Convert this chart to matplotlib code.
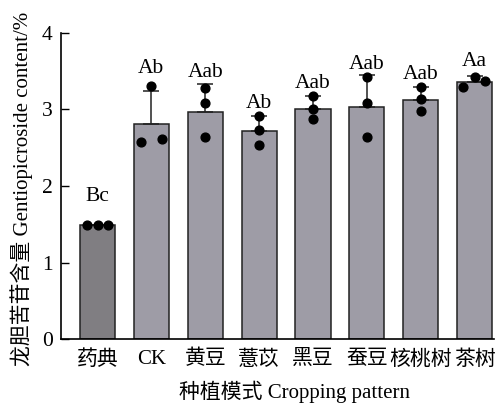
import matplotlib
matplotlib.use("Agg")
import matplotlib.pyplot as plt
import numpy as np

plt.rcParams['font.family'] = ['Liberation Serif', 'Noto Sans CJK SC']

categories = ['药典', 'CK', '黄豆', '薏苡', '黑豆', '蚕豆', '核桃树', '茶树']
means = [1.49, 2.81, 2.97, 2.72, 3.01, 3.03, 3.13, 3.36]
sds = [0.0, 0.43, 0.36, 0.20, 0.16, 0.42, 0.16, 0.08]
points = [
    [1.49, 1.49, 1.49],
    [2.58, 3.31, 2.61],
    [2.64, 3.08, 3.28],
    [2.54, 2.73, 2.92],
    [2.88, 3.00, 3.18],
    [2.64, 3.08, 3.43],
    [2.98, 3.14, 3.29],
    [3.29, 3.43, 3.37],
]
letters = ['Bc', 'Ab', 'Aab', 'Ab', 'Aab', 'Aab', 'Aab', 'Aa']

# horizontal spread of the dots inside each bar
spread = [
    [-0.2, 0.0, 0.2],
    [-0.19, 0.0, 0.2],
    [0, 0, 0],
    [0, 0, 0],
    [0, 0, 0],
    [0, 0, 0],
    [0, 0, 0],
    [-0.22, 0.0, 0.2],
]
# gap between error-bar cap and letter baseline
gaps = [0.32, 0.17, 0.1, 0.1, 0.1, 0.08, 0.11, 0.13]

colors = ['#807e82'] + ['#9e9ca6'] * 7

fig = plt.figure(figsize=(4.95, 4.07), dpi=100)
ax = fig.add_axes([0.123, 0.167, 0.875, 0.752])

x = np.arange(len(categories))
ax.bar(x, means, width=0.65, color=colors, edgecolor='#222222', linewidth=1.1, zorder=2)
ax.errorbar(x, means, yerr=[np.zeros(len(sds)), sds], fmt='none', ecolor='#222222',
            elinewidth=1.1, capsize=5.5, capthick=1.1, zorder=3)

for i, pts in enumerate(points):
    ax.scatter(x[i] + np.array(spread[i]), pts, s=40, color='black', zorder=4)
    top = max(means[i] + sds[i], max(pts))
    ax.text(x[i], top + gaps[i], letters[i], ha='center', va='baseline', fontsize=15.5)

ax.set_xlim(-0.68, 7.36)
ax.set_ylim(0, 4)
ax.set_yticks([0, 1, 2, 3, 4])
ax.set_xticks(x)
ax.set_xticklabels(categories, fontsize=15)
ax.tick_params(axis='y', direction='in', length=6, width=1, labelsize=15.5, pad=6)
ax.tick_params(axis='x', length=0, pad=8)
for s in ['top', 'right']:
    ax.spines[s].set_visible(False)
for s in ['left', 'bottom']:
    ax.spines[s].set_linewidth(1.2)

ax.set_ylabel('龙胆苦苷含量 Gentiopicroside content/%', fontsize=15)
ax.yaxis.set_label_coords(-0.065, 0.49)
ax.set_xlabel('种植模式 Cropping pattern', fontsize=15)
ax.xaxis.set_label_coords(0.54, -0.135)

fig.savefig('out.png', dpi=100)
plt.close(fig)
